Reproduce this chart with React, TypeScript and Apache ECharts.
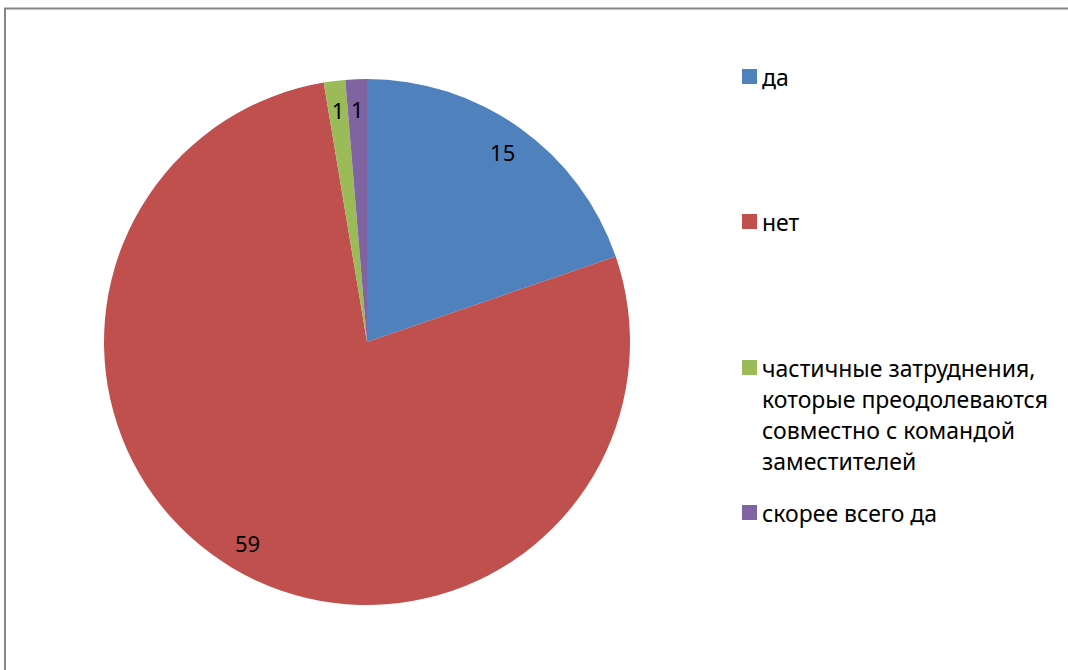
import React, { useEffect, useRef } from "react";
import * as echarts from "echarts";

const categories = [
  "да",
  "нет",
  "частичные затруднения, которые преодолеваются совместно с командой заместителей",
  "скорее всего да",
];
const values = [15, 59, 1, 1];
const colors = ["#4F81BD", "#C0504D", "#9BBB59", "#8064A2"];
const legendLines: Record<string, string> = {
  [categories[2]]: "частичные затруднения,\nкоторые преодолеваются\nсовместно с командой\nзаместителей",
};
const legendTops = [61, 206, 352, 497];

const FONT = "Noto Sans";
const LINE_H = 31;

export default function App() {
  const ref = useRef<HTMLDivElement>(null);
  useEffect(() => {
    if (!ref.current) return;
    const chart = echarts.init(ref.current, undefined, { renderer: "svg" });
    const data = categories.map((name, i) => ({
      name,
      value: values[i],
      itemStyle: { color: colors[i] },
    }));
    const legends = categories.map((name, i) => {
      const text = legendLines[name] || name;
      const nLines = text.split("\n").length;
      // icon box tall enough that the text block's first line sits next to the square
      const boxH = nLines > 1 ? LINE_H * nLines - LINE_H + 15 : 15;
      const icon =
        nLines > 1
          ? `path://M0,0h15v15h-15z M0,${boxH - 0.01}h0.01v0.01h-0.01z`
          : "rect";
      return {
        orient: "vertical",
        left: 742,
        top: legendTops[i],
        padding: 0,
        itemWidth: 15,
        itemHeight: boxH,
        icon,
        selectedMode: false,
        data: [{ name, itemStyle: { color: colors[i] } }],
        formatter: (n: string) => legendLines[n] || n,
        textStyle: {
          fontFamily: FONT,
          fontSize: 23,
          color: "#000",
          lineHeight: LINE_H,
        },
      };
    });
    chart.setOption({
      animation: false,
      backgroundColor: "#fff",
      legend: legends,
      graphic: [
        {
          type: "rect",
          shape: { x: 5, y: 8.5, width: 1200, height: 900 },
          style: { fill: "none", stroke: "#868686", lineWidth: 2 },
          silent: true,
        },
      ],
      series: [
        {
          type: "pie",
          center: [367, 342],
          radius: [0, 263],
          startAngle: 90,
          clockwise: true,
          data,
          label: { show: false },
          labelLine: { show: false },
          emphasis: { disabled: true },
        },
        {
          type: "pie",
          center: [367, 342],
          radius: [198, 263],
          startAngle: 90,
          clockwise: true,
          silent: true,
          legendHoverLink: false,
          data: categories.map((name, i) => ({ name, value: values[i] })),
          itemStyle: { color: "rgba(0,0,0,0)" },
          label: {
            show: true,
            position: "inside",
            formatter: "{c}",
            fontFamily: FONT,
            fontSize: 22,
            color: "#000",
          },
          labelLine: { show: false },
          emphasis: { disabled: true },
        },
      ],
    });
    return () => chart.dispose();
  }, []);
  return (
    <div
      ref={ref}
      style={{ position: "fixed", left: 0, top: 0, width: 1068, height: 670 }}
    />
  );
}
